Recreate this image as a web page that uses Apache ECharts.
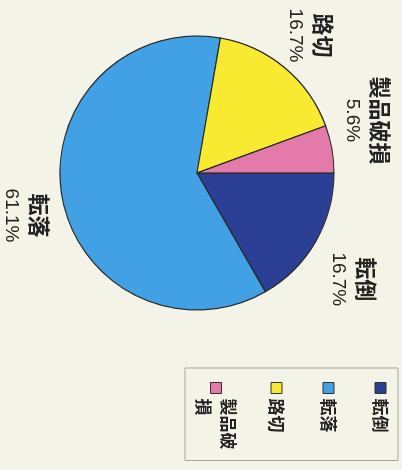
<!DOCTYPE html>
<html><head><meta charset="utf-8">
<script src="https://cdn.jsdelivr.net/npm/echarts@6/dist/echarts.min.js"></script>
<style>
html,body{margin:0;padding:0;background:#f4f3e7;width:402px;height:470px;overflow:hidden;}
#wrap{position:absolute;left:0;top:0;width:470px;height:402px;transform-origin:0 0;transform:translateX(402px) rotate(90deg);}
#chart{width:470px;height:402px;}
</style></head>
<body><div id="wrap"><div id="chart"></div></div>
<script>
const categories = ['転倒', '転落', '路切', '製品破損'];
const percents = [16.7, 61.1, 16.7, 5.6];
const colors = ['#2b3f94', '#42a1e5', '#f7ea31', '#e47aa9'];

// label placement style (angle shift from slice middle in degrees, distance from centre in px)
const labelAngleShift = [4, -4, 0, -7];
const labelDist = [190, 175, 179, 179];
const CX = 173, CY = 205, R = 137;

const total = percents.reduce((a, b) => a + b, 0);
const mids = [];
let acc = 0;
percents.forEach(v => { mids.push((acc + v / 2) / total * 360); acc += v; });

const chart = echarts.init(document.getElementById('chart'), null, {renderer: 'canvas'});
chart.setOption({
  backgroundColor: '#f4f3e7',
  animation: false,
  color: colors,
  legend: {
    orient: 'vertical',
    left: 368, top: 4,
    padding: [5, 8, 10, 14],
    backgroundColor: '#f4f3e7',
    borderColor: '#a6a59c', borderWidth: 1,
    itemWidth: 11, itemHeight: 11, itemGap: 27,
    icon: 'rect',
    itemStyle: {borderColor: '#333', borderWidth: 1},
    textStyle: {fontFamily: 'Noto Sans CJK JP', fontWeight: 'bold', fontSize: 17, lineHeight: 25, color: '#222', width: 54, overflow: 'breakAll'},
    data: categories.map((c, i) => i === 3 ? {name: c, textStyle: {padding: [0, 0, -25, 0]}} : {name: c})
  },
  series: [{
    type: 'pie',
    center: [CX, CY],
    radius: R,
    startAngle: 90,
    clockwise: true,
    data: categories.map((c, i) => ({name: c, value: percents[i]})),
    itemStyle: {borderColor: '#2a2a2a', borderWidth: 1.2},
    labelLine: {show: false},
    label: {
      show: true,
      position: 'outside',
      overflow: 'none',
      formatter: p => '{n|' + p.name + '}\n{p|' + percents[p.dataIndex].toFixed(1) + '%}',
      rich: {
        n: {fontFamily: 'Noto Sans CJK JP', fontWeight: 'bold', fontSize: 22, lineHeight: 32, color: '#222', align: 'center'},
        p: {fontFamily: 'Liberation Sans', fontSize: 19, lineHeight: 24, color: '#222', align: 'center'}
      }
    },
    labelLayout: p => {
      const i = p.dataIndex;
      const a = (mids[i] + labelAngleShift[i]) * Math.PI / 180;
      return {
        x: CX + Math.sin(a) * labelDist[i],
        y: CY - Math.cos(a) * labelDist[i],
        align: 'center', verticalAlign: 'middle'
      };
    }
  }]
});
</script></body></html>
